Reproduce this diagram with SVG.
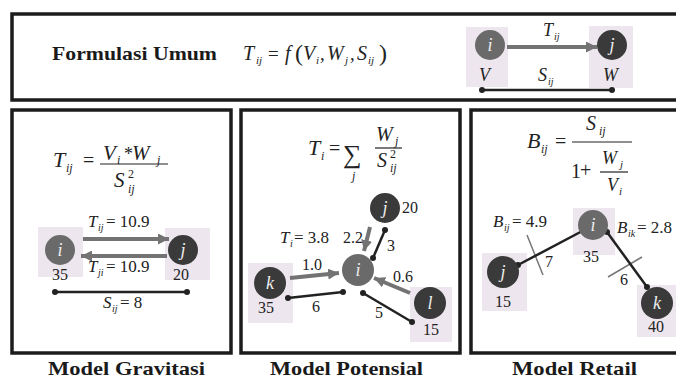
<svg xmlns="http://www.w3.org/2000/svg" width="676" height="379" viewBox="0 0 676 379">
<defs>
<style>
.box{fill:none;stroke:#1c1c1c;stroke-width:3.5}
.t{fill:#222}
.mi{font-style:italic}
.lbl{font-weight:bold;fill:#1a1a1a;font-size:19px}
.nl{font-style:italic;fill:#eee;font-size:18px;text-anchor:middle}
.ng{fill:#6a6a6a}
.nd{fill:#3a3a3a}
.pk{fill:#eee6ee}
.arr{stroke:#737373;stroke-width:4;fill:none;marker-end:url(#ah)}
.ln{stroke:#222;stroke-width:2.5}
.dot{fill:#222}
.tick{stroke:#777;stroke-width:1.5}
.fl{stroke:#222;stroke-width:1.2}
</style>
<marker id="ah" viewBox="0 0 10 10" refX="10" refY="5" markerWidth="11" markerHeight="11" markerUnits="userSpaceOnUse" orient="auto">
<path d="M0,0 L10,5 L0,10 z" fill="#737373"/>
</marker>
</defs>
<rect width="676" height="379" fill="#fff"/>
<g font-family="'Liberation Serif', 'DejaVu Serif', 'Times New Roman', serif">

<!-- frames -->
<g id="frames">
<path class="box" d="M680,14 H12 V100 H680"/>
<path class="box" d="M12,110 H231 V353 H12 Z"/>
<path class="box" d="M241,110 H460 V353 H241 Z"/>
<path class="box" d="M680,110 H471 V353 H680"/>
</g>

<!-- top: general formulation -->
<g id="general">
<text class="lbl" x="52" y="60" textLength="165" lengthAdjust="spacingAndGlyphs">Formulasi Umum</text>
<g class="t">
<text x="243" y="60" font-size="20" class="mi">T</text><text x="256" y="64" font-size="11" class="mi">ij</text>
<text x="268" y="60" font-size="19">=</text>
<text x="285" y="60" font-size="20" class="mi">f</text>
<text x="295" y="61" font-size="24">(</text>
<text x="303" y="60" font-size="20" class="mi">V</text><text x="316" y="64" font-size="11" class="mi">i</text>
<text x="320" y="60" font-size="19">,</text>
<text x="327" y="60" font-size="20" class="mi">W</text><text x="345" y="64" font-size="11" class="mi">j</text>
<text x="350" y="60" font-size="19">,</text>
<text x="357" y="60" font-size="20" class="mi">S</text><text x="368" y="64" font-size="11" class="mi">ij</text>
<text x="379" y="61" font-size="24">)</text>
</g>
</g>

<g id="general-diagram">
<rect class="pk" x="466" y="27" width="42" height="60"/>
<rect class="pk" x="589" y="26" width="44" height="62"/>
<line class="arr" x1="507" y1="47" x2="597" y2="47"/>
<g id="gen-node-i"><circle class="ng" cx="490" cy="45" r="15"/><text class="nl" x="490" y="51">i</text></g>
<g id="gen-node-j"><circle class="nd" cx="612" cy="45" r="15"/><text class="nl" x="612" y="51">j</text></g>
<g class="t">
<text x="543" y="36" font-size="18" class="mi">T</text><text x="554" y="40" font-size="10" class="mi">ij</text>
<text x="479" y="81" font-size="18" class="mi">V</text>
<text x="538" y="81" font-size="18" class="mi">S</text><text x="548" y="85" font-size="10" class="mi">ij</text>
<text x="603" y="81" font-size="18" class="mi">W</text>
</g>
<line class="ln" x1="482" y1="90" x2="612" y2="90"/>
<circle class="dot" cx="482" cy="90" r="3"/><circle class="dot" cx="612" cy="90" r="3"/>
</g>

<!-- gravity model -->
<g id="gravity">
<g class="t">
<text x="53" y="167" font-size="22" class="mi">T</text><text x="66" y="172" font-size="12" class="mi">ij</text>
<text x="83" y="167" font-size="20">=</text>
<line class="fl" x1="100" y1="164" x2="168" y2="164"/>
<text x="103" y="160" font-size="21" class="mi">V</text><text x="117" y="164" font-size="12" class="mi">i</text>
<text x="124" y="160" font-size="18">*</text>
<text x="132" y="160" font-size="21" class="mi">W</text><text x="157" y="164" font-size="12" class="mi">j</text>
<text x="114" y="187" font-size="21" class="mi">S</text><text x="128" y="178" font-size="12">2</text><text x="128" y="193" font-size="12" class="mi">ij</text>
</g>
<rect class="pk" x="38" y="227" width="45" height="50"/>
<rect class="pk" x="165" y="228" width="45" height="52"/>
<g class="t">
<text x="88" y="227" font-size="17" class="mi">T</text><text x="98" y="231" font-size="10" class="mi">ij</text><text x="106" y="227" font-size="17"> = 10.9</text>
</g>
<line class="arr" x1="83" y1="239" x2="169" y2="239"/>
<line class="arr" x1="167" y1="256" x2="81" y2="256"/>
<g id="g-node-i"><circle class="ng" cx="60" cy="250" r="15"/><text class="nl" x="60" y="256">i</text></g>
<g id="g-node-j"><circle class="nd" cx="183" cy="250" r="15"/><text class="nl" x="183" y="256">j</text></g>
<g class="t">
<text x="88" y="272" font-size="17" class="mi">T</text><text x="98" y="276" font-size="10" class="mi">ji</text><text x="106" y="272" font-size="17"> = 10.9</text>
<text x="52" y="280" font-size="16">35</text>
<text x="173" y="280" font-size="16">20</text>
</g>
<line class="ln" x1="55" y1="292" x2="187" y2="292"/>
<circle class="dot" cx="55" cy="292" r="3"/><circle class="dot" cx="187" cy="292" r="3"/>
<g class="t">
<text x="103" y="308" font-size="17" class="mi">S</text><text x="112" y="312" font-size="10" class="mi">ij</text><text x="120" y="308" font-size="17"> = 8</text>
</g>
<text class="lbl" x="48" y="375" textLength="157" lengthAdjust="spacingAndGlyphs">Model Gravitasi</text>
</g>

<!-- potential model -->
<g id="potential">
<g class="t">
<text x="308" y="155" font-size="22" class="mi">T</text><text x="321" y="160" font-size="12" class="mi">i</text>
<text x="329" y="155" font-size="20">=</text>
<text x="343" y="163" font-size="26">∑</text>
<text x="352" y="180" font-size="12" class="mi">j</text>
<line class="fl" x1="375" y1="148" x2="402" y2="148"/>
<text x="376" y="141" font-size="20" class="mi">W</text><text x="395" y="145" font-size="12" class="mi">j</text>
<text x="377" y="167" font-size="20" class="mi">S</text><text x="390" y="158" font-size="12">2</text><text x="390" y="172" font-size="12" class="mi">ij</text>
</g>
<rect class="pk" x="248" y="263" width="45" height="60"/>
<rect class="pk" x="410" y="287" width="42" height="55"/>
<line class="arr" x1="370" y1="227" x2="364" y2="251"/>
<line class="arr" x1="290" y1="278" x2="339" y2="273"/>
<line class="arr" x1="410" y1="293" x2="374" y2="278"/>
<line class="ln" x1="385" y1="230" x2="373" y2="258"/>
<circle class="dot" cx="385" cy="230" r="3"/><circle class="dot" cx="373" cy="258" r="3"/>
<line class="ln" x1="288" y1="298" x2="343" y2="292"/>
<circle class="dot" cx="288" cy="298" r="3"/><circle class="dot" cx="343" cy="292" r="3"/>
<line class="ln" x1="412" y1="322" x2="363" y2="293"/>
<circle class="dot" cx="412" cy="322" r="3"/><circle class="dot" cx="363" cy="293" r="3"/>
<g id="p-node-j"><circle class="nd" cx="385" cy="208" r="15"/><text class="nl" x="385" y="214">j</text></g>
<g id="p-node-i"><circle class="ng" cx="358" cy="270" r="16"/><text class="nl" x="358" y="276">i</text></g>
<g id="p-node-k"><circle class="nd" cx="270" cy="283" r="16"/><text class="nl" x="270" y="289">k</text></g>
<g id="p-node-l"><circle class="nd" cx="430" cy="303" r="16"/><text class="nl" x="430" y="309">l</text></g>
<g class="t" font-size="16">
<text x="402" y="213">20</text>
<text x="280" y="243" font-size="17" class="mi">T</text><text x="290" y="247" font-size="10" class="mi">i</text><text x="294" y="243" font-size="17"> = 3.8</text>
<text x="343" y="243">2.2</text>
<text x="387" y="251">3</text>
<text x="302" y="270">1.0</text>
<text x="258" y="313">35</text>
<text x="312" y="312">6</text>
<text x="393" y="282">0.6</text>
<text x="375" y="318">5</text>
<text x="423" y="335">15</text>
</g>
<text class="lbl" x="270" y="375" textLength="153" lengthAdjust="spacingAndGlyphs">Model Potensial</text>
</g>

<!-- retail model -->
<g id="retail">
<g class="t">
<text x="527" y="148" font-size="22" class="mi">B</text><text x="541" y="153" font-size="12" class="mi">ij</text>
<text x="555" y="148" font-size="20">=</text>
<line class="fl" x1="572" y1="142" x2="632" y2="142"/>
<text x="586" y="130" font-size="20" class="mi">S</text><text x="599" y="135" font-size="12" class="mi">ij</text>
<text x="571" y="178" font-size="20">1</text>
<text x="580" y="177" font-size="20">+</text>
<line class="fl" x1="600" y1="172" x2="628" y2="172"/>
<text x="602" y="164" font-size="18" class="mi">W</text><text x="620" y="168" font-size="11" class="mi">j</text>
<text x="607" y="191" font-size="18" class="mi">V</text><text x="619" y="195" font-size="11" class="mi">i</text>
</g>
<rect class="pk" x="573" y="208" width="42" height="47"/>
<rect class="pk" x="482" y="253" width="45" height="58"/>
<rect class="pk" x="637" y="285" width="39" height="52"/>
<line class="tick" x1="527" y1="235" x2="543" y2="275"/>
<line class="tick" x1="608" y1="277" x2="642" y2="257"/>
<line class="ln" x1="518" y1="265" x2="588" y2="228"/>
<circle class="dot" cx="518" cy="265" r="3"/><circle class="dot" cx="588" cy="228" r="3"/>
<line class="ln" x1="607" y1="232" x2="647" y2="287"/>
<circle class="dot" cx="607" cy="232" r="3"/><circle class="dot" cx="647" cy="287" r="3"/>
<g id="r-node-i"><circle class="ng" cx="593" cy="225" r="15"/><text class="nl" x="593" y="231">i</text></g>
<g id="r-node-j"><circle class="nd" cx="503" cy="272" r="16"/><text class="nl" x="503" y="278">j</text></g>
<g id="r-node-k"><circle class="nd" cx="657" cy="303" r="16"/><text class="nl" x="657" y="309">k</text></g>
<g class="t" font-size="16">
<text x="583" y="262">35</text>
<text x="493" y="227" font-size="17" class="mi">B</text><text x="504" y="231" font-size="10" class="mi">ij</text><text x="512" y="227" font-size="17"> = 4.9</text>
<text x="495" y="307">15</text>
<text x="545" y="267">7</text>
<text x="617" y="233" font-size="17" class="mi">B</text><text x="628" y="237" font-size="10" class="mi">ik</text><text x="637" y="233" font-size="17"> = 2.8</text>
<text x="620" y="285">6</text>
<text x="648" y="332">40</text>
</g>
<text class="lbl" x="512" y="375" textLength="125" lengthAdjust="spacingAndGlyphs">Model Retail</text>
</g>
</g>
</svg>
